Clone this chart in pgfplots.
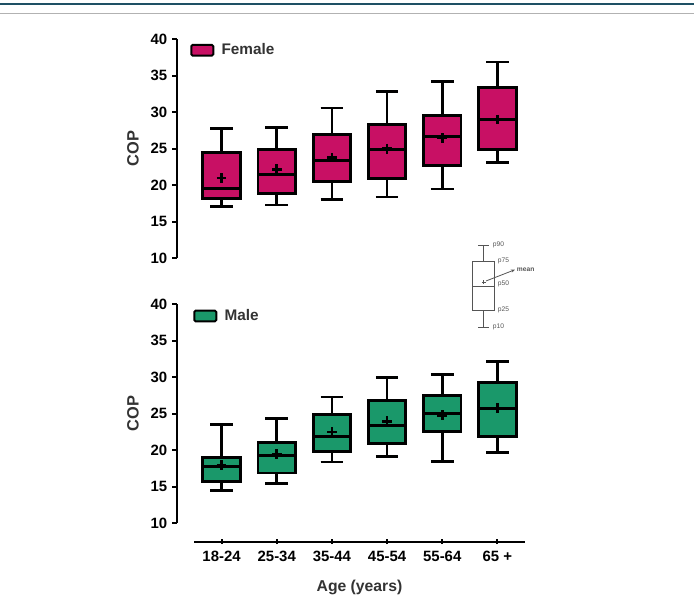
\documentclass[border=0pt]{standalone}
\usepackage{fontspec}
\setmainfont{Liberation Sans}
\usepackage{pgfplots}
\pgfplotsset{compat=1.18}
\usepgfplotslibrary{statistics}
\usetikzlibrary{arrows.meta}

\definecolor{female}{RGB}{200,16,100}
\definecolor{male}{RGB}{26,152,106}
\definecolor{labelgray}{RGB}{51,51,51}
\definecolor{keygray}{RGB}{85,85,85}

\pgfplotsset{
  panel/.style={
    scale only axis, width=248.25pt, height=164.25pt,
    xmin=-0.5, xmax=5.5, ymin=10, ymax=40,
    ytick={10,15,20,25,30,35,40},
    axis y line=left, axis y line shift=12.75pt,
    axis line style={-, line width=1.5pt, black},
    tick style={line width=1.5pt, black},
    major tick length=3.75pt, tick align=outside,
    /pgf/number format/assume math mode=true,
    tick label style={font=\fontsize{11.2}{13}\selectfont\bfseries},
    ylabel={COP},
    ylabel style={font=\fontsize{12.3}{14}\selectfont\bfseries, text=labelgray, xshift=0pt, yshift=2pt},
    clip=false,
    legend style={draw=none, fill=none, anchor=west,
      font=\fontsize{11.5}{13}\selectfont\bfseries, text=labelgray},
    boxplot/draw direction=y,
    boxplot/box extend=0.68,
    boxplot/whisker extend=0.41,
    boxplot/every average/.style={/tikz/mark=+, /tikz/mark size=3.6pt,
      /tikz/mark options={line width=2.4pt, draw=black, solid}},
  },
  cbox/.style={draw=black, line width=2.1pt, fill=#1, forget plot},
  keyimage/.style={legend image code/.code={%
    \draw[line width=1.5pt, fill=#1, rounded corners=1pt] (0pt,-4pt) rectangle (16.5pt,4pt);
    \path (20.5pt,0pt);}},
}

\begin{document}
\begin{tikzpicture}
\useasboundingbox (0,0) rectangle (520.5pt,-449.25pt);

% page rules
\draw[line width=1.6pt, color={rgb,255:red,150;green,205;blue,230}] (0,-3pt) -- (520.5pt,-3pt);
\draw[line width=0.8pt, color={rgb,255:red,30;green,80;blue,100}] (0,-3pt) -- (520.5pt,-3pt);
\draw[line width=1.4pt, black!30] (0,-10.1pt) -- (520.5pt,-10.1pt);

% Female
\begin{axis}[panel, at={(145.5pt,-193.725pt)}, anchor=south west,
  axis x line=none,
  legend style={at={(axis cs:-0.645,38.5)}}]
\addlegendimage{keyimage=female}
\addlegendentry{Female}
\addplot[cbox=female, boxplot prepared={draw position=0, lower whisker=17.1, lower quartile=18.2, median=19.6, upper quartile=24.5, upper whisker=27.8, average=21.0}] coordinates {};
\addplot[cbox=female, boxplot prepared={draw position=1, lower whisker=17.3, lower quartile=18.9, median=21.5, upper quartile=24.9, upper whisker=27.9, average=22.2}] coordinates {};
\addplot[cbox=female, boxplot prepared={draw position=2, lower whisker=18.0, lower quartile=20.5, median=23.4, upper quartile=27.0, upper whisker=30.6, average=23.8}] coordinates {};
\addplot[cbox=female, boxplot prepared={draw position=3, lower whisker=18.4, lower quartile=20.9, median=24.9, upper quartile=28.3, upper whisker=32.8, average=25.0}] coordinates {};
\addplot[cbox=female, boxplot prepared={draw position=4, lower whisker=19.5, lower quartile=22.7, median=26.7, upper quartile=29.6, upper whisker=34.2, average=26.5}] coordinates {};
\addplot[cbox=female, boxplot prepared={draw position=5, lower whisker=23.1, lower quartile=24.9, median=29.0, upper quartile=33.4, upper whisker=36.9, average=29.0}] coordinates {};
\end{axis}

% Male
\begin{axis}[panel, at={(145.5pt,-392.475pt)}, anchor=south west,
  axis x line=bottom, axis x line shift=13.8pt,
  x axis line style={-},
  xtick={0,1,2,3,4,5},
  xticklabels={18-24,25-34,35-44,45-54,55-64,65 +},
  xticklabel style={yshift=-1.5pt},
  xlabel={Age (years)},
  xlabel style={font=\fontsize{11.8}{13}\selectfont\bfseries, text=labelgray, yshift=-7pt},
  legend style={at={(axis cs:-0.59,38.4)}}]
\addlegendimage{keyimage=male}
\addlegendentry{Male}
\addplot[cbox=male, boxplot prepared={draw position=0, lower whisker=14.5, lower quartile=15.7, median=17.8, upper quartile=19.05, upper whisker=23.5, average=18.0}] coordinates {};
\addplot[cbox=male, boxplot prepared={draw position=1, lower whisker=15.4, lower quartile=16.9, median=19.3, upper quartile=21.1, upper whisker=24.4, average=19.5}] coordinates {};
\addplot[cbox=male, boxplot prepared={draw position=2, lower whisker=18.4, lower quartile=19.8, median=21.9, upper quartile=24.9, upper whisker=27.3, average=22.5}] coordinates {};
\addplot[cbox=male, boxplot prepared={draw position=3, lower whisker=19.1, lower quartile=20.9, median=23.4, upper quartile=26.8, upper whisker=30.0, average=24.0}] coordinates {};
\addplot[cbox=male, boxplot prepared={draw position=4, lower whisker=18.5, lower quartile=22.6, median=25.0, upper quartile=27.5, upper whisker=30.4, average=24.8}] coordinates {};
\addplot[cbox=male, boxplot prepared={draw position=5, lower whisker=19.7, lower quartile=21.9, median=25.7, upper quartile=29.3, upper whisker=32.2, average=25.8}] coordinates {};
\end{axis}

% Key to the box symbols
\begin{axis}[scale only axis, width=52.5pt, height=67.5pt,
  at={(345pt,-247.5pt)}, anchor=south west,
  xmin=460, xmax=530, ymin=0, ymax=90,
  axis lines=none, clip=false,
  boxplot/draw direction=y,
  boxplot/box extend=22.3, boxplot/whisker extend=11,
  boxplot/every average/.style={/tikz/mark=+, /tikz/mark size=1.5pt,
    /tikz/mark options={line width=0.6pt, draw=keygray, solid}},
  nodes={font=\fontsize{5}{6}\selectfont, text=keygray, inner sep=0.5pt, anchor=west}]
\addplot[draw=keygray, line width=0.75pt, boxplot prepared={draw position=483.8, lower whisker=2.7, lower quartile=19, median=43.3, upper quartile=69, upper whisker=85, average=47.7}] coordinates {};
\node at (axis cs:492,85) {p90};
\node at (axis cs:497,69) {p75};
\node at (axis cs:497,45.7) {p50};
\node at (axis cs:497,20) {p25};
\node at (axis cs:492,2.7) {p10};
\node[font=\fontsize{5}{6}\selectfont\bfseries] at (axis cs:516,60.7) {mean};
\draw[keygray, line width=0.6pt, -{Stealth[length=3pt]}] (axis cs:486,49) -- (axis cs:515,60.3);
\end{axis}
\end{tikzpicture}
\end{document}
